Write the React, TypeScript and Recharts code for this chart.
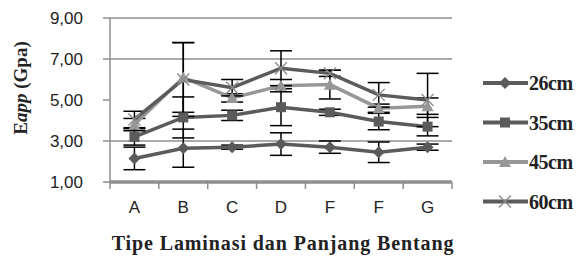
import { LineChart, Line, XAxis, YAxis, ErrorBar, ReferenceLine } from "recharts"

const categories = ["A", "B", "C", "D", "F", "F", "G"]
const s26 = [2.15, 2.65, 2.7, 2.85, 2.7, 2.45, 2.7]
const e26 = [0.55, 0.93, 0.1, 0.55, 0.3, 0.5, 0.15]
const s35 = [3.2, 4.15, 4.25, 4.65, 4.4, 3.95, 3.7]
const e35 = [0.4, 1.0, 0.25, 0.9, 0.15, 0.4, 0.45]
const s45 = [3.8, 6.1, 5.1, 5.7, 5.75, 4.6, 4.7]
const e45 = [0.3, 1.7, 0.2, 0.3, 0.7, 0.2, 0.4]
const s60 = [4.05, 6.0, 5.6, 6.55, 6.3, 5.25, 5.0]
const e60 = [0.4, 1.8, 0.4, 0.85, 0.15, 0.6, 1.3]
const yTicks = [1, 3, 5, 7, 9]
const gridValues = [3, 7, 9]

const data = categories.map((cat, i) => ({
  x: i,
  cat,
  s26: s26[i],
  e26: e26[i],
  s35: s35[i],
  e35: e35[i],
  s45: s45[i],
  e45: e45[i],
  s60: s60[i],
  e60: e60[i],
}))

// half steps: boundaries get a tick mark, whole steps get the category letter
const xTicks: number[] = []
for (let i = 0; i <= categories.length * 2; i++) xTicks.push(i / 2 - 0.5)

const dark = "#5b5b5b"
const light = "#979797"
const axisGrey = "#8e8e8e"

function Marker({ kind, cx, cy, color }: { kind: string; cx: number; cy: number; color: string }) {
  if (kind === "diamond")
    return <polygon points={`${cx},${cy - 6} ${cx + 6},${cy} ${cx},${cy + 6} ${cx - 6},${cy}`} fill={color} />
  if (kind === "square") return <rect x={cx - 5} y={cy - 5} width={10} height={10} fill={color} />
  if (kind === "triangle")
    return <polygon points={`${cx},${cy - 6} ${cx + 6},${cy + 5} ${cx - 6},${cy + 5}`} fill={color} />
  return (
    <g stroke="#8a8a8a" strokeWidth={1.3}>
      <line x1={cx - 6} y1={cy - 6} x2={cx + 6} y2={cy + 6} />
      <line x1={cx - 6} y1={cy + 6} x2={cx + 6} y2={cy - 6} />
    </g>
  )
}

const series = [
  { key: "s26", err: "e26", name: "26cm", color: dark, kind: "diamond" },
  { key: "s35", err: "e35", name: "35cm", color: dark, kind: "square" },
  { key: "s45", err: "e45", name: "45cm", color: light, kind: "triangle" },
  { key: "s60", err: "e60", name: "60cm", color: dark, kind: "x" },
]

function LegendBox() {
  return (
    <svg width={103} height={160} style={{ position: "absolute", left: 481, top: 72 }}>
      {series.map((s, i) => (
        <g key={s.key}>
          <line x1={2} x2={47} y1={11 + i * 39.5} y2={11 + i * 39.5} stroke={s.color} strokeWidth={4} />
          <Marker kind={s.kind} cx={24} cy={11 + i * 39.5} color={s.color} />
          <text
            x={48}
            y={11 + i * 39.5}
            dy="0.35em"
            fontFamily="Liberation Serif"
            fontWeight="bold"
            fontSize={20}
            letterSpacing={-0.5}
            fill="#222"
          >
            {s.name}
          </text>
        </g>
      ))}
    </svg>
  )
}

function XTick(props: any) {
  const { x, y, payload } = props
  const v = payload.value
  if (!Number.isInteger(v)) {
    return <line x1={x} x2={x} y1={y} y2={y + 7} stroke={axisGrey} strokeWidth={1.5} />
  }
  return (
    <text x={x} y={y + 31} textAnchor="middle" fontFamily="Liberation Sans" fontSize={17} fill="#222">
      {categories[v]}
    </text>
  )
}

function YTitle(props: any) {
  const vb = props.viewBox
  const cx = vb.x + 20
  const cy = vb.y + vb.height / 2 - 12
  return (
    <text
      x={cx}
      y={cy}
      transform={`rotate(-90 ${cx} ${cy})`}
      textAnchor="middle"
      dominantBaseline="central"
      fontFamily="Liberation Serif"
      fontWeight="bold"
      fontSize={19}
      fill="#222"
    >
      E<tspan fontStyle="italic">app</tspan> (Gpa)
    </text>
  )
}

function XTitle(props: any) {
  const vb = props.viewBox
  return (
    <text
      x={vb.x + vb.width / 2 + 2}
      y={243}
      textAnchor="middle"
      dominantBaseline="central"
      fontFamily="Liberation Serif"
      fontWeight="bold"
      fontSize={20}
      letterSpacing={0.9}
      fill="#222"
    >
      Tipe Laminasi dan Panjang Bentang
    </text>
  )
}

export default function App() {
  return (
    <div style={{ position: "absolute", left: 0, top: 0, width: 584, height: 262, background: "#fff" }}>
      <LineChart width={584} height={262} data={data} margin={{ top: 18, right: 132, bottom: 0, left: 0 }}>
        <XAxis
          type="number"
          dataKey="x"
          domain={[-0.5, 6.5]}
          ticks={xTicks}
          interval={0}
          tick={<XTick />}
          tickLine={false}
          tickSize={0}
          tickMargin={0}
          height={80}
          axisLine={{ stroke: axisGrey, strokeWidth: 3 }}
          label={<XTitle />}
        />
        <YAxis
          type="number"
          domain={[1, 9]}
          ticks={yTicks}
          width={110}
          tickFormatter={(v: number) => v.toFixed(2).replace(".", ",")}
          tick={{ fontFamily: "Liberation Sans", fontSize: 17, fill: "#222" }}
          tickSize={7}
          tickMargin={20}
          axisLine={{ stroke: axisGrey, strokeWidth: 1.5 }}
          tickLine={{ stroke: axisGrey, strokeWidth: 1.5 }}
          label={<YTitle />}
        />
        {gridValues.map((v) => (
          <ReferenceLine key={v} y={v} stroke={axisGrey} strokeWidth={1.5} />
        ))}
        <ReferenceLine y={1} stroke={axisGrey} strokeWidth={3} />
        {series.map((s) => (
          <Line
            key={s.key}
            dataKey={s.key}
            stroke={s.color}
            strokeWidth={3.5}
            isAnimationActive={false}
            dot={(p: any) => <Marker key={p.index} kind={s.kind} cx={p.cx} cy={p.cy} color={s.color} />}
            activeDot={false}
          >
            <ErrorBar dataKey={s.err} width={11} stroke="#000" strokeWidth={1.5} direction="y" />
          </Line>
        ))}
      </LineChart>
      <LegendBox />
    </div>
  )
}
